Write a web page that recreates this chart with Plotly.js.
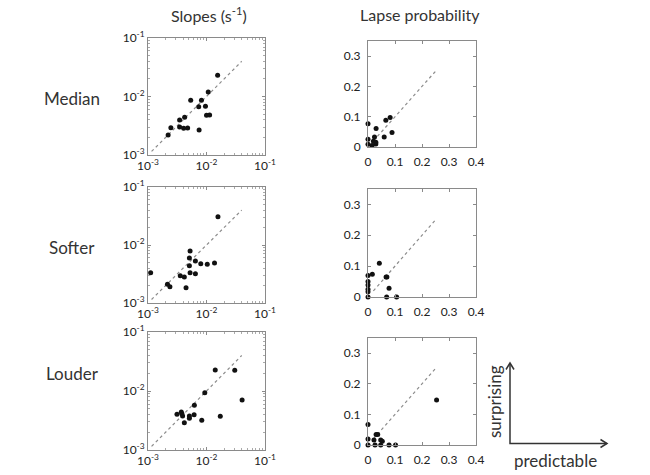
<!DOCTYPE html>
<html>
<head>
<meta charset="utf-8">
<script src="https://cdn.plot.ly/plotly-3.0.1.min.js"></script>
<style>html,body{margin:0;padding:0;background:#fff;}#chart{width:650px;height:475px;}</style>
</head>
<body>
<div id="chart"></div>
<script>
// ---- Data ----
const rowNames = ["Median", "Softer", "Louder"];
const colTitles = ["Slopes (s<sup>-1</sup>)", "Lapse probability"];

// Slopes (s^-1): x = predictable, y = surprising
const medSlopeX = [0.00221, 0.00246, 0.00347, 0.00347, 0.00423, 0.00407, 0.00476, 0.00537, 0.00736, 0.0082, 0.00748, 0.0096, 0.0107, 0.0100, 0.0113, 0.0155];
const medSlopeY = [0.0022, 0.00293, 0.00396, 0.00301, 0.0044, 0.00286, 0.0029, 0.0086, 0.0067, 0.0086, 0.00267, 0.0068, 0.0119, 0.00477, 0.00483, 0.0230];
const softSlopeX = [0.00111, 0.00215, 0.00237, 0.00356, 0.00418, 0.00447, 0.00524, 0.0051, 0.0051, 0.00524, 0.00646, 0.00646, 0.00798, 0.0103, 0.0137, 0.0157];
const softSlopeY = [0.00333, 0.0021, 0.00191, 0.00296, 0.0028, 0.00184, 0.0079, 0.00597, 0.0044, 0.00333, 0.0053, 0.0032, 0.00476, 0.00465, 0.0049, 0.0308];
const loudSlopeX = [0.00313, 0.00371, 0.0039, 0.0038, 0.00418, 0.0051, 0.0051, 0.0062, 0.00614, 0.0083, 0.00935, 0.0141, 0.0172, 0.0304, 0.0406];
const loudSlopeY = [0.00403, 0.0044, 0.00377, 0.0041, 0.0029, 0.00377, 0.00344, 0.00573, 0.00396, 0.00319, 0.00935, 0.0227, 0.00373, 0.0225, 0.00703];

// Lapse probability
const medLapseX = [0.0, 0.0, 0.0, 0.015, 0.02, 0.024, 0.029, 0.029, 0.03, 0.06, 0.066, 0.082, 0.089];
const medLapseY = [0.077, 0.026, 0.009, 0.005, 0.019, 0.033, 0.010, 0.016, 0.061, 0.033, 0.088, 0.097, 0.048];
const softLapseX = [0.0, 0.0, 0.0, 0.0, 0.0, 0.0, 0.016, 0.042, 0.067, 0.070, 0.078, 0.069, 0.106];
const softLapseY = [0.070, 0.050, 0.039, 0.025, 0.017, 0.0, 0.074, 0.109, 0.065, 0.065, 0.028, 0.0, 0.0];
const loudLapseX = [0.0, 0.0, 0.0, 0.022, 0.030, 0.036, 0.047, 0.053, 0.026, 0.047, 0.078, 0.102, 0.254];
const loudLapseY = [0.067, 0.020, 0.0, 0.016, 0.034, 0.034, 0.016, 0.012, 0.0, 0.0, 0.0, 0.0, 0.147];

// Identity reference lines
const diagLog = [0.00115, 0.04];
const diagLin = [0.02, 0.25];

// Tick labels
const logTickVals = [0.001, 0.01, 0.1];
const logTickText = ["10<sup>-3</sup>", "10<sup>-2</sup>", "10<sup>-1</sup>"];
const logMinorVals = [0.002,0.003,0.004,0.005,0.006,0.007,0.008,0.009,0.02,0.03,0.04,0.05,0.06,0.07,0.08,0.09];
const linTickVals = [0, 0.1, 0.2, 0.3, 0.4];

// ---- Build ----
const W = 650, H = 475;
const fx = p => p / W;
const fy = p => 1 - p / H;

const slopeSets = [[medSlopeX, medSlopeY], [softSlopeX, softSlopeY], [loudSlopeX, loudSlopeY]];
const lapseSets = [[medLapseX, medLapseY], [softLapseX, softLapseY], [loudLapseX, loudLapseY]];

const leftRows = [[38, 155], [187, 303], [332, 450]];
const rightRows = [[41, 147], [189, 297], [338, 445]];
const leftX = [148, 265];
const rightX = [368, 476];

const FONT = "Lato, 'Open Sans', sans-serif";
const axisCommon = {
  showline: true, linecolor: '#8a8a8a', linewidth: 1, mirror: 'ticks',
  ticks: 'inside', ticklen: 3, tickcolor: '#8a8a8a', showgrid: false, zeroline: false,
  tickfont: {family: FONT, size: 12, color: '#222'}, fixedrange: true
};

const traces = [];
const layout = {
  width: W, height: H, margin: {l: 0, r: 0, t: 0, b: 0},
  paper_bgcolor: '#fff', plot_bgcolor: '#fff', showlegend: false,
  font: {family: FONT, color: '#333'},
  annotations: [], shapes: []
};

const dotLine = {color: '#8c8c8c', width: 1.2, dash: 'dot'};

for (let r = 0; r < 3; r++) {
  const li = 2 * r + 1, ri = 2 * r + 2;
  const lx = 'x' + (li === 1 ? '' : li), ly = 'y' + (li === 1 ? '' : li);
  const rx = 'x' + ri, ry = 'y' + ri;

  traces.push({x: diagLog, y: diagLog, xaxis: lx, yaxis: ly, mode: 'lines', line: dotLine, hoverinfo: 'skip'});
  traces.push({x: slopeSets[r][0], y: slopeSets[r][1], xaxis: lx, yaxis: ly, mode: 'markers',
    marker: {color: '#111', size: 5}, cliponaxis: false});
  traces.push({x: diagLin, y: diagLin, xaxis: rx, yaxis: ry, mode: 'lines', line: dotLine, hoverinfo: 'skip'});
  traces.push({x: lapseSets[r][0], y: lapseSets[r][1], xaxis: rx, yaxis: ry, mode: 'markers',
    marker: {color: '#111', size: 5}, cliponaxis: false});

  const logAxis = (anchor, dom) => Object.assign({}, axisCommon, {
    type: 'log', range: [-3, -1], anchor: anchor, domain: dom,
    tickmode: 'array', tickvals: logTickVals, ticktext: logTickText,
    minor: {tickmode: 'array', tickvals: logMinorVals, ticks: 'inside', ticklen: 2, tickcolor: '#aaa', showgrid: false}
  });
  const kx = li === 1 ? 'xaxis' : 'xaxis' + li;
  const ky = li === 1 ? 'yaxis' : 'yaxis' + li;
  layout[kx] = logAxis(ly, [fx(leftX[0]), fx(leftX[1])]);
  layout[ky] = logAxis(lx, [fy(leftRows[r][1]), fy(leftRows[r][0])]);

  layout['xaxis' + ri] = Object.assign({}, axisCommon, {
    range: [0, 0.4], anchor: ry, domain: [fx(rightX[0]), fx(rightX[1])],
    tickmode: 'array', tickvals: linTickVals, ticklabelstandoff: 4
  });
  layout['yaxis' + ri] = Object.assign({}, axisCommon, {
    range: [0, 0.35], anchor: rx, domain: [fy(rightRows[r][1]), fy(rightRows[r][0])],
    tickmode: 'array', tickvals: [0, 0.1, 0.2, 0.3], ticklabelstandoff: 4
  });

  const rowY = [98, 247, 373][r];
  layout.annotations.push({text: rowNames[r], xref: 'paper', yref: 'paper', x: fx(72), y: fy(rowY),
    xanchor: 'center', yanchor: 'middle', showarrow: false, font: {family: FONT, size: 17, color: '#333'}});
}

layout.annotations.push({text: colTitles[0], xref: 'paper', yref: 'paper', x: fx(209), y: fy(14),
  xanchor: 'center', yanchor: 'middle', showarrow: false, font: {family: FONT, size: 16, color: '#333'}});
layout.annotations.push({text: colTitles[1], xref: 'paper', yref: 'paper', x: fx(420), y: fy(14),
  xanchor: 'center', yanchor: 'middle', showarrow: false, font: {family: FONT, size: 16, color: '#333'}});

layout.annotations.push({text: 'surprising', xref: 'paper', yref: 'paper', x: fx(494), y: fy(402),
  xanchor: 'center', yanchor: 'middle', textangle: -90, showarrow: false, font: {family: FONT, size: 17, color: '#333'}});
layout.annotations.push({text: 'predictable', xref: 'paper', yref: 'paper', x: fx(555), y: fy(460),
  xanchor: 'center', yanchor: 'middle', showarrow: false, font: {family: FONT, size: 17, color: '#333'}});
const lineStyle = {color: '#333', width: 1.5};
layout.shapes.push({type: 'path', xref: 'paper', yref: 'paper',
  path: `M ${fx(510)} ${fy(363)} L ${fx(510)} ${fy(443.5)} L ${fx(607)} ${fy(443.5)}`, line: lineStyle});
layout.shapes.push({type: 'path', xref: 'paper', yref: 'paper',
  path: `M ${fx(506)} ${fy(369.5)} L ${fx(510)} ${fy(363)} L ${fx(514)} ${fy(369.5)}`, line: lineStyle});
layout.shapes.push({type: 'path', xref: 'paper', yref: 'paper',
  path: `M ${fx(600.5)} ${fy(439.5)} L ${fx(607)} ${fy(443.5)} L ${fx(600.5)} ${fy(447.5)}`, line: lineStyle});

Plotly.newPlot('chart', traces, layout, {staticPlot: true, displayModeBar: false});
</script>
</body>
</html>
